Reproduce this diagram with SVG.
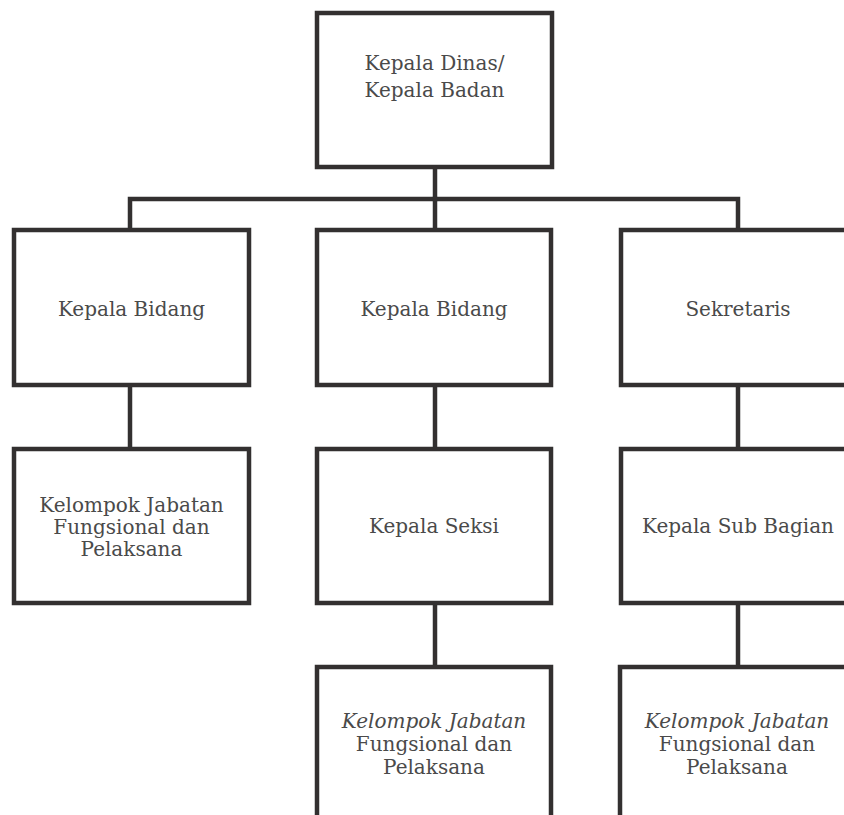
<svg xmlns="http://www.w3.org/2000/svg" width="844" height="815" viewBox="0 0 844 815">
  <style>
    .box { fill: #ffffff; stroke: #333030; stroke-width: 4.5; }
    .link { fill: none; stroke: #333030; stroke-width: 4.5; stroke-linecap: square; }
    .lbl { font-family: "DejaVu Serif", "Liberation Serif", serif; font-size: 20px; fill: #4a4a4a; text-anchor: middle; }
    .it { font-style: italic; }
  </style>
  <rect width="844" height="815" fill="#ffffff"/>

  <!-- connectors -->
  <g id="connectors">
    <path class="link" d="M435 167 V199"/>
    <path class="link" d="M130 230 V199 H738 V230"/>
    <path class="link" d="M435 199 V230"/>
    <path class="link" d="M130 385 V449"/>
    <path class="link" d="M435 385 V449"/>
    <path class="link" d="M738 385 V449"/>
    <path class="link" d="M435 603 V667"/>
    <path class="link" d="M738 603 V667"/>
  </g>

  <!-- top level -->
  <g id="kepala-dinas">
    <rect class="box" x="317" y="13" width="235" height="154"/>
    <text class="lbl" x="434.5" y="70">Kepala Dinas/</text>
    <text class="lbl" x="434.5" y="97">Kepala Badan</text>
  </g>

  <!-- second level -->
  <g id="kepala-bidang-1">
    <rect class="box" x="14" y="230" width="235" height="155"/>
    <text class="lbl" x="131.5" y="316">Kepala Bidang</text>
  </g>
  <g id="kepala-bidang-2">
    <rect class="box" x="317" y="230" width="234" height="155"/>
    <text class="lbl" x="434" y="316">Kepala Bidang</text>
  </g>
  <g id="sekretaris">
    <rect class="box" x="621" y="230" width="235" height="155"/>
    <text class="lbl" x="738" y="316">Sekretaris</text>
  </g>

  <!-- third level -->
  <g id="kelompok-jabatan-1">
    <rect class="box" x="14" y="449" width="235" height="154"/>
    <text class="lbl" x="131.5" y="512">Kelompok Jabatan</text>
    <text class="lbl" x="131.5" y="534">Fungsional dan</text>
    <text class="lbl" x="131.5" y="556">Pelaksana</text>
  </g>
  <g id="kepala-seksi">
    <rect class="box" x="317" y="449" width="234" height="154"/>
    <text class="lbl" x="434" y="533">Kepala Seksi</text>
  </g>
  <g id="kepala-sub-bagian">
    <rect class="box" x="621" y="449" width="235" height="154"/>
    <text class="lbl" x="738" y="533">Kepala Sub Bagian</text>
  </g>

  <!-- fourth level -->
  <g id="kelompok-jabatan-2">
    <rect class="box" x="317" y="667" width="234" height="170"/>
    <text class="lbl it" x="434" y="728">Kelompok Jabatan</text>
    <text class="lbl" x="434" y="751">Fungsional dan</text>
    <text class="lbl" x="434" y="774">Pelaksana</text>
  </g>
  <g id="kelompok-jabatan-3">
    <rect class="box" x="620" y="667" width="235" height="170"/>
    <text class="lbl it" x="737" y="728">Kelompok Jabatan</text>
    <text class="lbl" x="737" y="751">Fungsional dan</text>
    <text class="lbl" x="737" y="774">Pelaksana</text>
  </g>
</svg>
